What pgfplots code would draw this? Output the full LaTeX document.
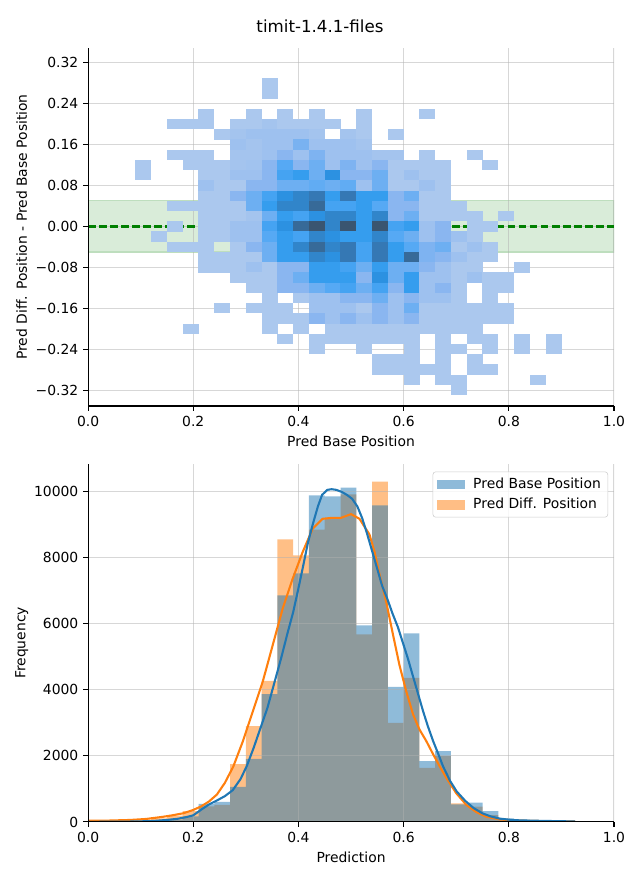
\documentclass[border=0pt]{standalone}
\usepackage{fontspec}
\setmainfont{DejaVu Sans}
\usepackage{pgfplots}
\usepackage{pgfplotstable}
\pgfplotsset{compat=1.18}
\definecolor{mplblue}{HTML}{1F77B4}
\definecolor{mplorange}{HTML}{FF7F0E}
\definecolor{bandgreen}{RGB}{217,236,217}
\definecolor{bandedge}{RGB}{190,222,190}
\definecolor{mplgreen}{RGB}{0,128,0}
\definecolor{gridgray}{RGB}{176,176,176}
\definecolor{legedge}{RGB}{204,204,204}
\pgfdeclareplotmark{cell}{\pgfpathrectangle{\pgfpoint{-5.75pt}{-3.72pt}}{\pgfpoint{11.5pt}{7.44pt}}\pgfusepathqfill}

\pgfplotstableread{
x y c
0.345 0.28 1
0.345 0.26 1
0.225 0.22 1
0.315 0.22 1
0.375 0.22 1
0.435 0.22 1
0.525 0.22 1
0.645 0.22 1
0.165 0.20 1
0.195 0.20 1
0.225 0.20 1
0.285 0.20 1
0.315 0.20 1
0.345 0.20 1.2
0.375 0.20 1
0.405 0.20 1
0.435 0.20 1
0.465 0.20 1
0.525 0.20 1
0.255 0.18 1
0.285 0.18 1.2
0.315 0.18 1.4
0.345 0.18 1.4
0.375 0.18 1.4
0.405 0.18 1.4
0.435 0.18 1.2
0.495 0.18 1.2
0.525 0.18 1
0.585 0.18 1
0.285 0.16 1.4
0.315 0.16 1.2
0.345 0.16 1.4
0.375 0.16 1.4
0.405 0.16 2.3
0.435 0.16 1.4
0.465 0.16 1.4
0.495 0.16 1.4
0.525 0.16 1.2
0.165 0.14 1
0.195 0.14 1
0.225 0.14 1
0.285 0.14 1.2
0.315 0.14 1.2
0.345 0.14 1.4
0.375 0.14 2
0.405 0.14 1.4
0.435 0.14 2.2
0.465 0.14 1.4
0.495 0.14 1.4
0.525 0.14 1.4
0.555 0.14 1.2
0.585 0.14 1.2
0.645 0.14 1
0.735 0.14 1
0.105 0.12 1
0.195 0.12 1
0.225 0.12 1
0.255 0.12 1
0.285 0.12 1.2
0.315 0.12 1.3
0.345 0.12 2
0.375 0.12 2.9
0.405 0.12 2
0.435 0.12 2.5
0.465 0.12 1.4
0.495 0.12 2.2
0.525 0.12 1.4
0.555 0.12 2
0.585 0.12 1
0.615 0.12 1
0.645 0.12 1
0.675 0.12 1
0.765 0.12 1
0.105 0.10 1
0.225 0.10 1
0.255 0.10 1
0.285 0.10 1.4
0.315 0.10 1.4
0.345 0.10 2
0.375 0.10 3.3
0.405 0.10 3.7
0.435 0.10 2.5
0.465 0.10 4.2
0.495 0.10 2
0.525 0.10 2
0.555 0.10 2.5
0.585 0.10 1
0.615 0.10 1.4
0.645 0.10 1
0.675 0.10 1
0.225 0.08 1.4
0.255 0.08 1
0.285 0.08 1
0.315 0.08 2
0.345 0.08 2
0.375 0.08 2.5
0.405 0.08 2.5
0.435 0.08 2.7
0.465 0.08 2.5
0.495 0.08 2.7
0.525 0.08 1.4
0.555 0.08 2.5
0.585 0.08 1
0.615 0.08 1
0.645 0.08 1.4
0.675 0.08 1
0.225 0.06 1
0.255 0.06 1
0.285 0.06 2
0.315 0.06 2.5
0.345 0.06 3.3
0.375 0.06 4.2
0.405 0.06 4.6
0.435 0.06 5
0.465 0.06 3.7
0.495 0.06 5
0.525 0.06 3.7
0.555 0.06 3.7
0.585 0.06 2
0.615 0.06 2.5
0.645 0.06 1
0.675 0.06 1
0.165 0.04 1
0.195 0.04 1
0.225 0.04 1
0.255 0.04 1
0.285 0.04 1
0.315 0.04 2.5
0.345 0.04 3.7
0.375 0.04 4.6
0.405 0.04 4.6
0.435 0.04 5.4
0.465 0.04 3.3
0.495 0.04 3.3
0.525 0.04 3.7
0.555 0.04 2.9
0.585 0.04 2
0.615 0.04 2
0.645 0.04 1
0.675 0.04 1
0.705 0.04 1
0.225 0.02 1
0.255 0.02 1
0.285 0.02 1
0.315 0.02 1.2
0.345 0.02 2.5
0.375 0.02 3.7
0.405 0.02 3.3
0.435 0.02 4.2
0.465 0.02 4.6
0.495 0.02 4.6
0.525 0.02 3.7
0.555 0.02 4.6
0.585 0.02 2
0.615 0.02 2.5
0.645 0.02 1
0.675 0.02 1
0.705 0.02 1
0.735 0.02 1
0.795 0.02 1
0.165 0.00 1
0.225 0.00 1
0.255 0.00 1
0.285 0.00 1.4
0.315 0.00 1.4
0.345 0.00 3.3
0.375 0.00 4.2
0.405 0.00 5.4
0.435 0.00 6
0.465 0.00 4.6
0.495 0.00 6
0.525 0.00 3.7
0.555 0.00 6
0.585 0.00 3.3
0.615 0.00 3.7
0.645 0.00 1.4
0.675 0.00 2
0.735 0.00 1
0.765 0.00 1
0.135 -0.02 1
0.225 -0.02 1
0.255 -0.02 1
0.285 -0.02 1.4
0.315 -0.02 1.4
0.345 -0.02 2.9
0.375 -0.02 3.7
0.405 -0.02 3.3
0.435 -0.02 4.6
0.465 -0.02 4.2
0.495 -0.02 3.7
0.525 -0.02 3.7
0.555 -0.02 4.6
0.585 -0.02 2.9
0.615 -0.02 2.5
0.645 -0.02 1.4
0.675 -0.02 2
0.705 -0.02 1.4
0.735 -0.02 1
0.165 -0.04 1
0.195 -0.04 1
0.225 -0.04 1
0.285 -0.04 1
0.315 -0.04 2
0.345 -0.04 2.5
0.375 -0.04 3.7
0.405 -0.04 4.6
0.435 -0.04 5.4
0.465 -0.04 4.6
0.495 -0.04 5
0.525 -0.04 3.3
0.555 -0.04 5
0.585 -0.04 3.7
0.615 -0.04 2.9
0.645 -0.04 2.2
0.675 -0.04 2.5
0.705 -0.04 1
0.735 -0.04 1.4
0.765 -0.04 1
0.225 -0.06 1
0.255 -0.06 1
0.285 -0.06 1
0.315 -0.06 1
0.345 -0.06 2.5
0.375 -0.06 3.7
0.405 -0.06 3.7
0.435 -0.06 4.6
0.465 -0.06 4.2
0.495 -0.06 5
0.525 -0.06 3.3
0.555 -0.06 5
0.585 -0.06 3.7
0.615 -0.06 5.4
0.645 -0.06 2.2
0.675 -0.06 2
0.705 -0.06 1.4
0.735 -0.06 1
0.765 -0.06 1
0.225 -0.08 1
0.255 -0.08 1
0.285 -0.08 1
0.315 -0.08 1.4
0.345 -0.08 1
0.375 -0.08 2
0.405 -0.08 2
0.435 -0.08 3.7
0.465 -0.08 3.7
0.495 -0.08 3.3
0.525 -0.08 2.5
0.555 -0.08 3.7
0.585 -0.08 2.5
0.615 -0.08 2.5
0.645 -0.08 2
0.675 -0.08 1.4
0.705 -0.08 1
0.735 -0.08 1
0.825 -0.08 1
0.285 -0.10 1
0.315 -0.10 1
0.345 -0.10 1
0.375 -0.10 2
0.405 -0.10 2.5
0.435 -0.10 3.7
0.465 -0.10 3.7
0.495 -0.10 3.7
0.525 -0.10 2
0.555 -0.10 4.2
0.585 -0.10 2.5
0.615 -0.10 3.7
0.645 -0.10 1.4
0.675 -0.10 1.4
0.705 -0.10 1
0.735 -0.10 1.4
0.765 -0.10 1
0.795 -0.10 1
0.315 -0.12 1
0.345 -0.12 1
0.375 -0.12 2
0.405 -0.12 2
0.435 -0.12 2.5
0.465 -0.12 2.9
0.495 -0.12 3.3
0.525 -0.12 2.5
0.555 -0.12 3.3
0.585 -0.12 2
0.615 -0.12 3.7
0.645 -0.12 1.4
0.675 -0.12 2
0.705 -0.12 1
0.765 -0.12 1
0.795 -0.12 1
0.345 -0.14 1
0.405 -0.14 1
0.435 -0.14 1.4
0.465 -0.14 1.4
0.495 -0.14 2
0.525 -0.14 2
0.555 -0.14 2.5
0.585 -0.14 1.4
0.615 -0.14 2
0.645 -0.14 1.4
0.675 -0.14 1.4
0.705 -0.14 1
0.765 -0.14 1
0.255 -0.16 1
0.315 -0.16 1
0.345 -0.16 1
0.375 -0.16 1
0.435 -0.16 1.4
0.465 -0.16 1.4
0.495 -0.16 1.4
0.525 -0.16 1
0.555 -0.16 2
0.585 -0.16 1.4
0.615 -0.16 2.5
0.645 -0.16 1
0.675 -0.16 1
0.705 -0.16 1
0.735 -0.16 1
0.765 -0.16 1
0.795 -0.16 1
0.345 -0.18 1
0.375 -0.18 1
0.405 -0.18 1
0.435 -0.18 2
0.465 -0.18 1.4
0.495 -0.18 2
0.525 -0.18 1.4
0.555 -0.18 2
0.585 -0.18 1.4
0.615 -0.18 2
0.645 -0.18 1
0.675 -0.18 1
0.705 -0.18 1
0.735 -0.18 1
0.765 -0.18 1
0.795 -0.18 1
0.195 -0.20 1
0.345 -0.20 1
0.405 -0.20 1
0.465 -0.20 1
0.495 -0.20 1
0.525 -0.20 1
0.555 -0.20 1
0.585 -0.20 1
0.615 -0.20 1
0.645 -0.20 1
0.675 -0.20 1
0.705 -0.20 1
0.735 -0.20 1
0.375 -0.22 1
0.435 -0.22 1
0.465 -0.22 1
0.495 -0.22 1
0.525 -0.22 1
0.555 -0.22 1
0.585 -0.22 1
0.615 -0.22 1
0.675 -0.22 1
0.735 -0.22 1
0.765 -0.22 1
0.825 -0.22 1
0.885 -0.22 1
0.435 -0.24 1
0.525 -0.24 1
0.615 -0.24 1
0.675 -0.24 1
0.705 -0.24 1
0.765 -0.24 1
0.825 -0.24 1
0.885 -0.24 1
0.555 -0.26 1
0.585 -0.26 1
0.615 -0.26 1
0.675 -0.26 1
0.735 -0.26 1
0.555 -0.28 1
0.585 -0.28 1
0.615 -0.28 1
0.645 -0.28 1
0.675 -0.28 1
0.735 -0.28 1
0.765 -0.28 1
0.615 -0.30 1
0.675 -0.30 1
0.705 -0.30 1
0.855 -0.30 1
0.705 -0.32 1
}\heat

\pgfplotstableread{
x base diff
0.00 0 30
0.03 5 30
0.06 10 40
0.09 20 60
0.12 40 110
0.15 70 190
0.18 170 330
0.21 545 470
0.24 605 515
0.27 1065 1750
0.30 1910 2900
0.33 3870 4270
0.36 6860 8550
0.39 7520 8070
0.42 9880 8850
0.45 9850 9200
0.48 10120 9910
0.51 5950 5680
0.54 9580 10300
0.57 4090 3000
0.60 5710 4360
0.63 1840 1640
0.66 2145 1995
0.69 535 565
0.72 585 465
0.75 330 210
0.78 110 80
0.81 70 50
0.84 50 30
0.87 40 20
0.90 25 15
0.93 0 0
}\hist

\pgfplotstableread{
x y
0.000 3
0.040 6
0.080 12
0.120 25
0.150 60
0.170 95
0.185 140
0.200 200
0.215 370
0.230 530
0.245 650
0.260 780
0.275 960
0.290 1300
0.302 1700
0.315 2250
0.328 2850
0.341 3450
0.354 4200
0.367 4950
0.379 5700
0.390 6350
0.399 7000
0.409 7750
0.418 8450
0.428 9050
0.437 9550
0.445 9900
0.455 10050
0.463 10070
0.472 10050
0.482 9990
0.492 9900
0.502 9780
0.512 9550
0.521 9200
0.530 8750
0.540 8200
0.550 7650
0.559 7150
0.569 6750
0.579 6300
0.589 5900
0.598 5450
0.608 4950
0.617 4450
0.627 3900
0.637 3350
0.646 2900
0.656 2450
0.666 2050
0.675 1680
0.688 1250
0.701 920
0.717 640
0.733 420
0.750 260
0.765 170
0.783 100
0.808 55
0.840 40
0.872 30
0.900 22
0.926 15
}\kdebase

\pgfplotstableread{
x y
0.000 40
0.040 42
0.080 60
0.110 90
0.140 150
0.160 200
0.181 262
0.200 363
0.215 470
0.230 620
0.245 830
0.260 1180
0.276 1672
0.294 2427
0.313 3333
0.332 4239
0.351 5347
0.370 6455
0.389 7361
0.408 8167
0.427 8872
0.446 9174
0.465 9204
0.481 9204
0.500 9315
0.516 9174
0.535 8700
0.545 8150
0.554 7500
0.567 6650
0.580 5650
0.592 4750
0.605 3950
0.618 3250
0.630 2800
0.643 2450
0.656 2050
0.668 1700
0.681 1340
0.700 870
0.719 520
0.738 300
0.757 160
0.783 75
0.808 45
0.840 30
0.872 25
0.926 15
}\kdediff

\pgfplotsset{
  mystyle/.style={
    scale only axis, width=378.7pt, height=257.8pt,
    axis x line*=bottom, axis y line*=left,
    axis line style={line width=0.8pt, black},
    tick style={line width=0.8pt, black},
    tick align=outside, major tick length=3.5pt,
    axis on top,
    xmin=0, xmax=1,
    xtick={0,0.2,0.4,0.6,0.8,1}, xticklabels={0.0,0.2,0.4,0.6,0.8,1.0},
    scaled x ticks=false, scaled y ticks=false,
    tick label style={font=\fontsize{10}{12}\selectfont},
    label style={font=\fontsize{10}{12}\selectfont},
    ylabel style={at={(axis description cs:-0.1262,0.5)}, anchor=center},
  },
  gridl/.style={line width=0.8pt, gridgray, opacity=0.5, forget plot},
}

\begin{document}
\begin{tikzpicture}
\path[use as bounding box] (0,0) rectangle (460.8pt,633.6pt);
\node[font=\fontsize{12}{14.4}\selectfont] at (230.4pt,614.9pt) {timit-1.4.1-files};

\begin{axis}[mystyle, at={(63.4pt,341.3pt)}, anchor=south west,
  ymin=-0.351, ymax=0.349,
  ytick={-0.32,-0.24,-0.16,-0.08,0,0.08,0.16,0.24,0.32},
  yticklabels={−0.32,−0.24,−0.16,−0.08,0.00,0.08,0.16,0.24,0.32},
  xlabel={Pred Base Position},
  ylabel={Pred Diff. Position - Pred Base Position},
  colormap={hm}{rgb255=(171,200,238) rgb255=(138,182,240) rgb255=(80,168,244) rgb255=(42,152,236) rgb255=(53,120,180) rgb255=(58,85,112)},
  point meta min=1, point meta max=6]
\addplot[fill=bandgreen, draw=bandedge, line width=0.8pt, forget plot] coordinates {(0,-0.05) (1,-0.05) (1,0.05) (0,0.05)} -- cycle;
\addplot[scatter, only marks, mark=cell, point meta=explicit, forget plot] table[x=x, y=y, meta=c] {\heat};
\addplot[gridl] coordinates {(0.2,-0.351) (0.2,0.349)};
\addplot[gridl] coordinates {(0.4,-0.351) (0.4,0.349)};
\addplot[gridl] coordinates {(0.6,-0.351) (0.6,0.349)};
\addplot[gridl] coordinates {(0.8,-0.351) (0.8,0.349)};
\addplot[gridl] coordinates {(1.0,-0.351) (1.0,0.349)};
\addplot[gridl] coordinates {(0,-0.32) (1,-0.32)};
\addplot[gridl] coordinates {(0,-0.24) (1,-0.24)};
\addplot[gridl] coordinates {(0,-0.16) (1,-0.16)};
\addplot[gridl] coordinates {(0,-0.08) (1,-0.08)};
\addplot[gridl] coordinates {(0,0) (1,0)};
\addplot[gridl] coordinates {(0,0.08) (1,0.08)};
\addplot[gridl] coordinates {(0,0.16) (1,0.16)};
\addplot[gridl] coordinates {(0,0.24) (1,0.24)};
\addplot[gridl] coordinates {(0,0.32) (1,0.32)};
\addplot[mplgreen, line width=1.6pt, dash pattern=on 5.55pt off 2.4pt, forget plot] coordinates {(0,0) (1,0)};
\end{axis}

\begin{axis}[mystyle, at={(63.4pt,41.8pt)}, anchor=south west,
  ymin=0, ymax=10836,
  ytick={0,2000,4000,6000,8000,10000},
  yticklabels={0,2000,4000,6000,8000,10000},
  xlabel={Prediction}, ylabel={Frequency},
  legend cell align=left,
  legend style={at={(1,1)}, anchor=north east, xshift=-4.3pt, yshift=-5.5pt,
    draw=legedge, rounded corners=2pt, fill=white, fill opacity=0.8, text opacity=1,
    font=\fontsize{10}{12}\selectfont, inner xsep=3pt, inner ysep=2.5pt, row sep=1.5pt}]
\addplot[ybar interval, fill=mplorange, fill opacity=0.5, draw=none, forget plot] table[x=x, y=diff] {\hist};
\addplot[ybar interval, fill=mplblue, fill opacity=0.5, draw=none, forget plot] table[x=x, y=base] {\hist};
\addplot[gridl] coordinates {(0.2,0) (0.2,10836)};
\addplot[gridl] coordinates {(0.4,0) (0.4,10836)};
\addplot[gridl] coordinates {(0.6,0) (0.6,10836)};
\addplot[gridl] coordinates {(0.8,0) (0.8,10836)};
\addplot[gridl] coordinates {(1.0,0) (1.0,10836)};
\addplot[gridl] coordinates {(0,2000) (1,2000)};
\addplot[gridl] coordinates {(0,4000) (1,4000)};
\addplot[gridl] coordinates {(0,6000) (1,6000)};
\addplot[gridl] coordinates {(0,8000) (1,8000)};
\addplot[gridl] coordinates {(0,10000) (1,10000)};
\addplot[mplorange, line width=1.5pt, forget plot] table[x=x, y=y] {\kdediff};
\addplot[mplblue, line width=1.5pt, forget plot] table[x=x, y=y] {\kdebase};
\addlegendimage{legend image code/.code={\path[fill=mplblue, fill opacity=0.5, draw=none, sharp corners] (0pt,-3.5pt) rectangle (20pt,3.5pt); \path[draw=none, fill=none] (0pt,0pt) -- (24pt,0pt);}}
\addlegendentry{Pred Base Position}
\addlegendimage{legend image code/.code={\path[fill=mplorange, fill opacity=0.5, draw=none, sharp corners] (0pt,-3.5pt) rectangle (20pt,3.5pt); \path[draw=none, fill=none] (0pt,0pt) -- (24pt,0pt);}}
\addlegendentry{Pred Diff. Position}
\end{axis}
\end{tikzpicture}
\end{document}
